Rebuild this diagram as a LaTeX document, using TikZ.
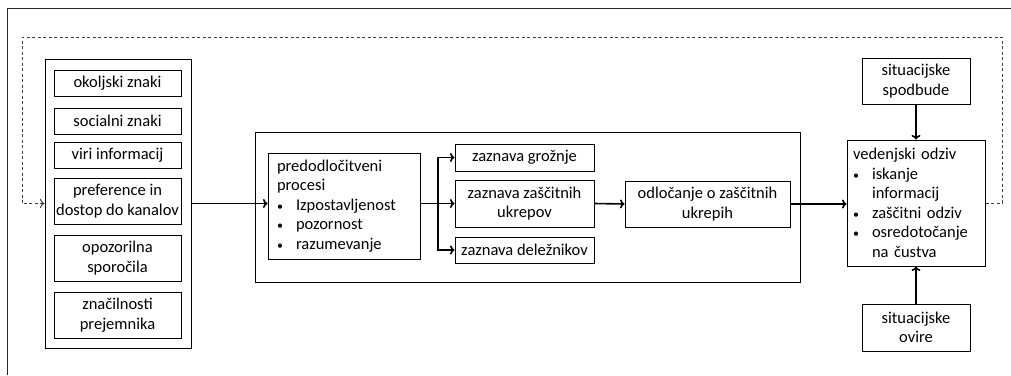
\documentclass[tikz,border=0pt]{standalone}
\usepackage{fontspec}
\setmainfont{Carlito}
\usetikzlibrary{arrows.meta}
\tikzset{every node/.style={font=\fontsize{16.5pt}{19.5pt}\selectfont},
         frame/.style={draw, line width=1pt},
         cue/.style={frame, align=center, minimum width=127pt, minimum height=#1, inner sep=0pt},
         cue/.default=26pt,
         listbox/.style={frame, align=left, inner ysep=0pt},
         flow/.style={line width=1.6pt, -{To[length=4.5pt,width=9pt]}},
         feedback/.style={line width=1pt, black!75, dash pattern=on 3pt off 2.5pt, -{To[length=4.5pt,width=9pt]}}}
\newcommand{\itm}{\makebox[19pt][l]{\fontsize{12pt}{12pt}\selectfont\textbullet}}

\begin{document}
\begin{tikzpicture}[x=1pt, y=-1pt]
    \useasboundingbox (0,0) rectangle (1011,375);
    \draw[line width=1pt, black!85] (7,375) -- (7,8) -- (1011,8);
    % information sources
    \node[frame, minimum width=146pt, minimum height=289pt] (sources) at (118,203.5) {};
    \node[cue] (okolj) at (117.5,83) {okoljski znaki};
    \node[cue] (social) at (117.5,121) {socialni znaki};
    \node[cue] (viri) at (117.5,155) {viri informacij};
    \node[cue=46pt] (pref) at (117.5,201) {preference in\\dostop do kanalov};
    \node[cue=46pt] (opoz) at (117.5,258) {opozorilna\\sporočila};
    \node[cue=46pt] (znac) at (117.5,315) {značilnosti\\prejemnika};
    % core processes
    \node[frame, minimum width=545pt, minimum height=150pt] (core) at (527.5,207) {};
    \node[listbox, inner xsep=9pt, text width=134pt, minimum height=106pt] (predod) at (344,206)
        {predodločitveni\\procesi\\\itm Izpostavljenost\\\itm pozornost\\\itm razumevanje};
    \node[cue, minimum width=139pt, minimum height=27pt] (grozn) at (524.5,157.5) {zaznava grožnje};
    \node[cue, minimum width=139pt, minimum height=47pt] (zascit) at (524.5,203.5) {zaznava zaščitnih\\ukrepov};
    \node[cue, minimum width=139pt] (delez) at (524.5,250) {zaznava deležnikov};
    \node[cue, minimum width=165pt, minimum height=46pt] (odloc) at (707.5,204) {odločanje o zaščitnih\\ukrepih};
    % response
    \node[listbox, inner xsep=6pt, text width=126pt, minimum height=126pt] (odziv) at (916,203)
        {vedenjski odziv\\\itm iskanje\\\hspace*{19pt}informacij\\\itm zaščitni odziv\\\itm osredotočanje\\\hspace*{19pt}na čustva};
    \node[cue, minimum width=108pt, minimum height=46pt] (spodb) at (916,81) {situacijske\\spodbude};
    \node[cue, minimum width=108pt, minimum height=47pt] (ovire) at (916,327.5) {situacijske\\ovire};

    \coordinate (branch) at (438,203.5);
    \coordinate (fbR) at (1002,37);
    \coordinate (fbL) at (22,37);

    \draw[flow] (sources.east) -- (sources.east -| predod.west);
    \draw[line width=1.6pt] (predod.east |- branch) -- (branch);
    \draw[flow] (branch) -- (zascit.west |- branch);
    \draw[flow] (branch) |- (grozn.west);
    \draw[flow] (branch) |- (delez.west);
    \draw[flow] (zascit.east) -- (odloc.west);
    \draw[flow] (odloc.east) -- (odloc.east -| odziv.west);
    \draw[flow] (spodb) -- (odziv);
    \draw[flow] (ovire) -- (odziv);
    \draw[feedback] (odziv.east) -- (odziv.east -| fbR) -- (fbR) -- (fbL) -- (fbL |- sources.east) -- (sources.west);
\end{tikzpicture}
\end{document}
